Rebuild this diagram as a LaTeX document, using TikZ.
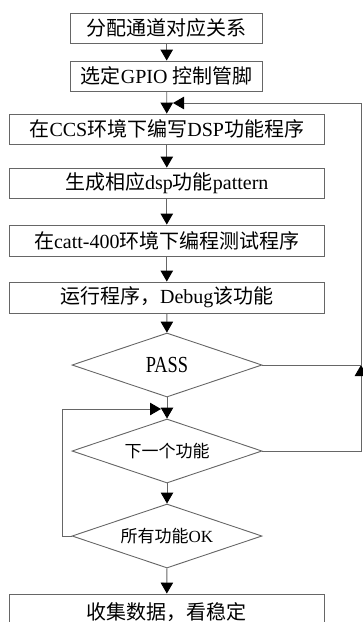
\documentclass[tikz,border=0pt]{standalone}
\usepackage{fontspec}
\setmainfont{Liberation Serif}
\newfontfamily\cjk{Noto Sans CJK SC}
\usetikzlibrary{arrows.meta,shapes.geometric}
\newcommand\zh[1]{{\cjk #1}}
\tikzset{
  box/.style={draw=black!60, line width=0.9pt, rectangle, inner sep=0pt, font=\fontsize{20}{22}\selectfont},
  dia/.style={draw=black!60, line width=0.9pt, diamond, inner sep=0pt, shape aspect=2.97, minimum width=190pt, minimum height=64pt, font=\fontsize{17}{19}\selectfont},
  line/.style={draw=black!60, line width=0.9pt},
  arr/.style={line, -{Triangle[length=11pt,width=12.5pt,fill=black,color=black]}},
}
\begin{document}
\begin{tikzpicture}[x=1pt,y=-1pt]
\useasboundingbox (0,0) rectangle (362,622);
\node[box, minimum width=192pt, minimum height=30pt] (b1) at (166.7,28) {\zh{分配通道对应关系}};
\node[box, minimum width=192pt, minimum height=30pt] (b2) at (166.7,76) {\zh{选定}GPIO \zh{控制管脚}};
\node[box, minimum width=315pt, minimum height=30pt] (b3) at (166.8,129) {\zh{在}CCS\zh{环境下编写}DSP\zh{功能程序}};
\node[box, minimum width=315pt, minimum height=30pt] (b4) at (166.8,183) {\zh{生成相应}dsp\zh{功能}pattern};
\node[box, minimum width=315pt, minimum height=31pt] (b5) at (166.8,240.5) {\zh{在}catt-400\zh{环境下编程测试程序}};
\node[box, minimum width=315pt, minimum height=31pt] (b6) at (166.8,297.5) {\zh{运行程序，}Debug\zh{该功能}};
\node[dia] (d1) at (167,365) {\scalebox{0.8}[1]{\fontsize{23}{25}\selectfont PASS}};
\node[dia] (d2) at (167,451) {\zh{下一个功能}};
\node[dia] (d3) at (167,536) {\zh{所有功能}OK};
\node[box, minimum width=315pt, minimum height=36pt] (b7) at (166.8,612) {\zh{收集数据，看稳定}};
\coordinate (R1) at (361,451);
\coordinate (R2) at (361,365);
\coordinate (R3) at (361,103);
\coordinate (J) at (173,103);
\coordinate (L1) at (62,536);
\coordinate (L2) at (161,409);
\draw[arr] (b1) -- (b2);
\draw[arr] (b2) -- (b3);
\draw[arr] (b3) -- (b4);
\draw[arr] (b4) -- (b5);
\draw[arr] (b5) -- (b6);
\draw[arr] (b6) -- (d1);
\draw[arr] (d1) -- (d2);
\draw[arr] (d2) -- (d3);
\draw[arr] (d3) -- (b7);
\draw[arr] (d2.east) -- (R1) -- (R2);
\draw[line] (d1.east) -- (R2) -- (R3);
\draw[arr] (R3) -- (J);
\draw[arr] (d3.west) -- (L1) |- (L2);
\end{tikzpicture}
\end{document}
